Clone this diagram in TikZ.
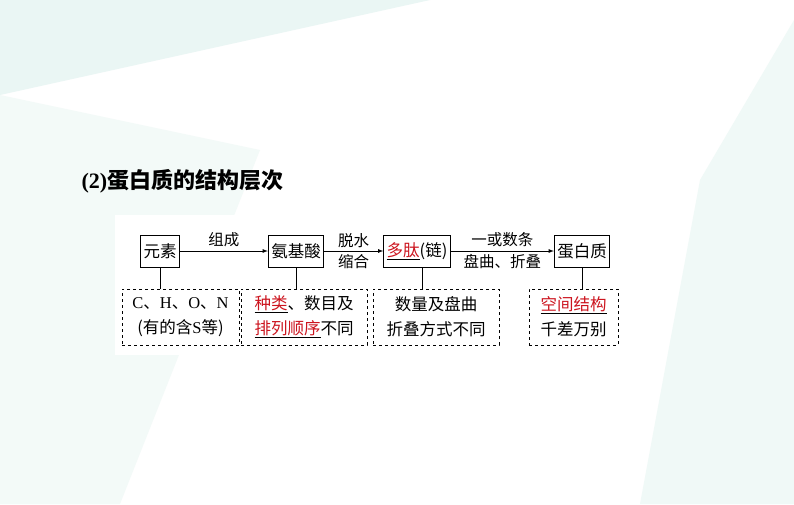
\documentclass[tikz,border=0pt]{standalone}
\usepackage{fontspec}
\setmainfont{Noto Sans CJK SC}
\newfontfamily\lat{Liberation Serif}
\usetikzlibrary{positioning}
\definecolor{keyred}{RGB}{204,20,30}
\definecolor{deco}{RGB}{234,246,244}
\newcommand{\key}[1]{\underline{\textcolor{keyred}{#1}}}
\tikzset{
  stage/.style={draw, thick, inner sep=3pt, minimum height=32pt, font=\fontsize{16.5}{19}\selectfont},
  note/.style={draw, thick, dashed, minimum width=#1, minimum height=56pt, align=center, inner sep=2pt, font=\fontsize{16.5}{25}\selectfont},
  lab/.style={font=\fontsize{15.5}{18}\selectfont},
  flow/.style={draw, thick, -latex}
}
\begin{document}
\begin{tikzpicture}[x=1pt, y=-1pt]
  \useasboundingbox (0,0) rectangle (794,504);
  % background
  \fill[white] (0,0) rectangle (794,504);
  \fill[deco] (0,0) -- (430,0) -- (0,95) -- cycle;
  \fill[deco!60] (0,95) -- (0,504) -- (120,504) -- (260,150) -- cycle;
  \fill[deco!70] (794,20) -- (794,504) -- (640,504) -- (700,180) -- cycle;
  \fill[white] (115,215) rectangle (652,355);
  % title
  \node[anchor=west, font=\fontsize{22}{26}\selectfont\bfseries] (title) at (78,181) {{\lat\bfseries(2)}蛋白质的结构层次};
  % Place nodes
  \node[stage] (elem) at (160,251) {元素};
  \node[stage] (amino) at (296,251) {氨基酸};
  \node[stage] (pept) at (417,251) {\key{多肽}({链})};
  \node[stage] (prot) at (582,251) {蛋白质};
  \node[note=117pt] (n1) at (180.5,317) {{\lat C}、{\lat H}、{\lat O}、{\lat N}\\({有的含}{\lat S}等)};
  \node[note=126pt] (n2) at (304,317) {\key{种类}、数目及\\\key{排列顺序}不同};
  \node[note=126pt] (n3) at (436,317) {数量及盘曲\\折叠方式不同};
  \node[note=89pt] (n4) at (573.5,317) {\key{空间结构}\\千差万别};
  % Draw edges
  \path[flow] (elem) -- node[lab, above] {组成} (amino);
  \path[flow] (amino) -- node[lab, above] {脱水} node[lab, below] {缩合} (pept);
  \path[flow] (pept) -- node[lab, above] {一或数条} node[lab, below] {盘曲、折叠} (prot);
  \draw[thick] (elem.south) -- (elem.south |- n1.north);
  \draw[thick] (amino.south) -- (amino.south |- n2.north);
  \draw[thick] ([xshift=5pt]pept.south) -- ([xshift=5pt]pept.south |- n3.north);
  \draw[thick] (prot.south) -- (prot.south |- n4.north);
\end{tikzpicture}
\end{document}
